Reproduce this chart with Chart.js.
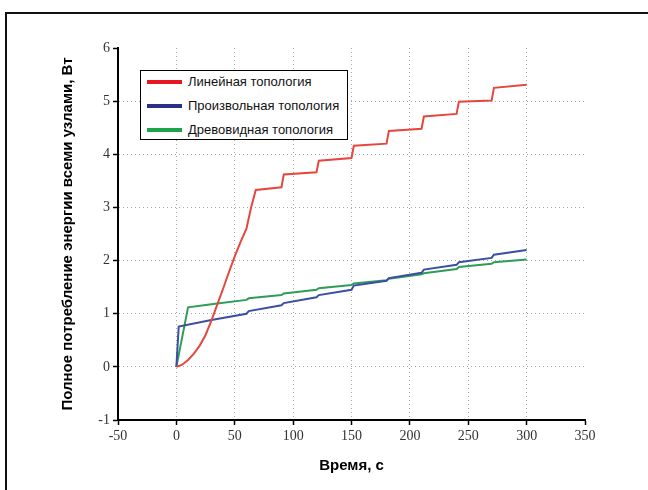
<!DOCTYPE html>
<html lang="ru">
<head>
    <meta charset="UTF-8">
    <title>Потребление энергии</title>
    <script src="https://cdn.jsdelivr.net/npm/chart.js"></script>
    <style>
        body { margin: 0; background: #fff; overflow: hidden; }
        #moldura { position: absolute; left: 5px; top: 12px; width: 700px; height: 600px; border: 2px solid #111; }
        #myChart { position: absolute; left: 0; top: 0; }
        #legenda { position: absolute; left: 140px; top: 70px; width: 206px; height: 68px; border: 1.5px solid #000;
                   background: #fff; font-family: "Liberation Sans", Arial, sans-serif; font-size: 13px; color: #111; }
        .item { position: absolute; left: 6px; height: 16px; line-height: 16px; white-space: nowrap; }
        .amostra { display: inline-block; width: 35px; height: 4px; vertical-align: middle; margin-right: 6px; margin-top: -2px; }
    </style>
</head>
<body>
    <div id="moldura"></div>
    <canvas id="myChart" width="648" height="490"></canvas>
    <div id="legenda"></div>
</body>
</html>
<script>
    // dados
    var tempoLinear = [0, 5, 10, 15, 20, 25, 30, 35, 40, 45, 50, 55, 60, 64, 68, 90, 92, 120, 122, 150, 152, 180, 182, 210, 212, 240, 242, 270, 272, 300];
    var energiaLinear = [0, 0.04, 0.13, 0.25, 0.4, 0.6, 0.87, 1.17, 1.47, 1.78, 2.08, 2.35, 2.6, 3.0, 3.33, 3.38, 3.62, 3.66, 3.88, 3.93, 4.16, 4.2, 4.44, 4.48, 4.71, 4.76, 4.99, 5.01, 5.25, 5.31];

    var tempoProizv = [0, 2, 30, 60, 62, 90, 92, 120, 122, 150, 152, 180, 182, 210, 212, 240, 242, 270, 272, 300];
    var energiaProizv = [0, 0.76, 0.88, 1.0, 1.05, 1.16, 1.2, 1.31, 1.35, 1.45, 1.53, 1.62, 1.67, 1.77, 1.83, 1.92, 1.97, 2.05, 2.11, 2.2];

    var tempoDrevo = [0, 10, 30, 60, 62, 90, 92, 120, 122, 150, 152, 180, 182, 210, 212, 240, 242, 270, 272, 300];
    var energiaDrevo = [0, 1.12, 1.18, 1.26, 1.29, 1.35, 1.38, 1.45, 1.48, 1.54, 1.57, 1.63, 1.66, 1.74, 1.76, 1.84, 1.88, 1.94, 1.97, 2.02];

    var nomes = ['Линейная топология', 'Произвольная топология', 'Древовидная топология'];
    var coresLinha = ['#e5473f', '#3a4ea3', '#2e9d57'];
    var coresLegenda = ['#e8161e', '#2b2f88', '#1fa34a'];

    var ticksX = { min: -50, max: 350, passo: 50 };
    var ticksY = { min: -1, max: 6, passo: 1 };

    function pontos(xs, ys) {
        var lista = [];
        for (i = 0; i < xs.length; i++) {
            lista.push({ x: xs[i], y: ys[i] });
        }
        return lista;
    }

    var dados = {
        datasets: [
            { label: nomes[0], data: pontos(tempoLinear, energiaLinear), borderColor: coresLinha[0] },
            { label: nomes[1], data: pontos(tempoProizv, energiaProizv), borderColor: coresLinha[1] },
            { label: nomes[2], data: pontos(tempoDrevo, energiaDrevo), borderColor: coresLinha[2] }
        ]
    };

    var fonteTicks = { family: '"Liberation Serif", "Times New Roman", serif', size: 14 };
    var fonteTitulo = { family: '"Liberation Sans", Arial, sans-serif', size: 15, weight: 'bold' };

    // linhas de grade só nos valores internos
    function corGrade(ctx, min, max) {
        var v = ctx.tick ? ctx.tick.value : null;
        if (v === min || v === max) return 'rgba(0,0,0,0)';
        return '#a8a8a8';
    }

    var opcoes = {
        responsive: false,
        animation: false,
        layout: { padding: { left: 58, top: 48, right: 63, bottom: 0 } },
        elements: {
            line: { borderWidth: 2, tension: 0, fill: false },
            point: { radius: 0 }
        },
        plugins: { legend: { display: false }, tooltip: { enabled: false } },
        scales: {
            x: {
                type: 'linear',
                min: ticksX.min,
                max: ticksX.max,
                afterFit: function (s) { s.height = 70; },
                ticks: { stepSize: ticksX.passo, font: fonteTicks, color: '#333', padding: 3, maxRotation: 0 },
                grid: {
                    color: function (ctx) { return corGrade(ctx, ticksX.min, ticksX.max); },
                    lineWidth: 1, tickLength: 5, tickColor: '#000', tickWidth: 1.5
                },
                border: { color: '#000', width: 2, dash: [1, 3] },
                title: { display: true, text: 'Время, с', font: fonteTitulo, color: '#000', padding: { top: 0, bottom: 15 } }
            },
            y: {
                type: 'linear',
                min: ticksY.min,
                max: ticksY.max,
                afterFit: function (s) { s.width = 60; },
                ticks: { stepSize: ticksY.passo, font: fonteTicks, color: '#333', padding: 3 },
                grid: {
                    color: function (ctx) { return corGrade(ctx, ticksY.min, ticksY.max); },
                    lineWidth: 1, tickLength: 5, tickColor: '#000', tickWidth: 1.5
                },
                border: { color: '#000', width: 2, dash: [1, 3] },
                title: { display: true, text: 'Полное потребление энергии всеми узлами, Вт', font: fonteTitulo, color: '#000', padding: { top: 1, bottom: 0 } }
            }
        }
    };

    var myChart = new Chart(document.getElementById('myChart'), { type: 'line', data: dados, options: opcoes });

    // legenda dentro da área do gráfico
    var legenda = document.getElementById('legenda');
    for (i = 0; i < dados.datasets.length; i++) {
        var linha = document.createElement('div');
        linha.className = 'item';
        linha.style.top = (3 + i * 24) + 'px';
        linha.innerHTML = '<span class="amostra" style="background:' + coresLegenda[i] + '"></span>' + dados.datasets[i].label;
        legenda.appendChild(linha);
    }
</script>
